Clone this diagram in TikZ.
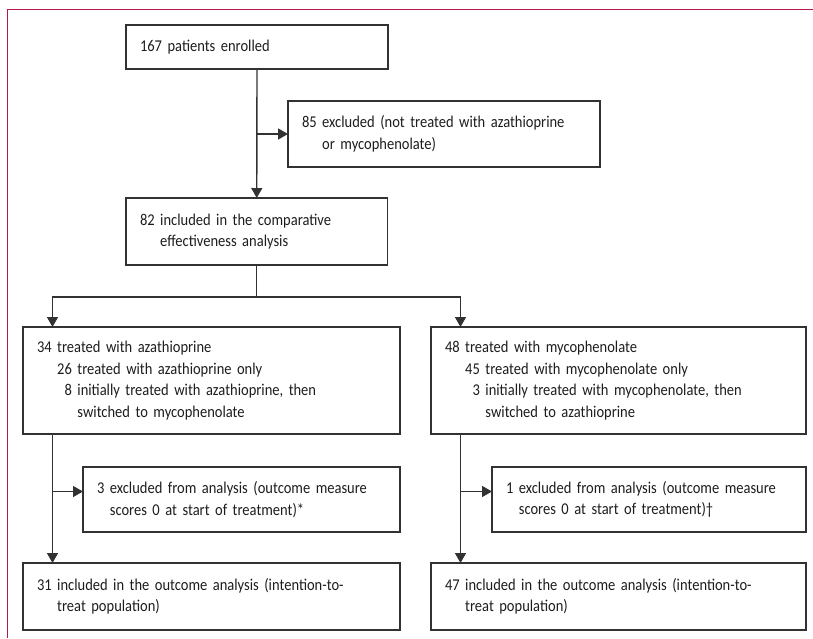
\documentclass[tikz,border=0pt]{standalone}
\usepackage{fontspec}
\setmainfont{Carlito}[FakeStretch=0.88]
\usepackage{tikz}
\usetikzlibrary{positioning,calc,arrows.meta}
\definecolor{framered}{RGB}{178,24,72}
\definecolor{boxgrey}{RGB}{50,50,50}
\definecolor{inkgrey}{RGB}{30,28,28}
\newcommand{\flowfont}{\fontsize{16.5}{21.5}\selectfont}

\begin{document}
\begin{tikzpicture}[x=1pt, y=-1pt, >={Triangle[width=11pt,length=10pt]}, line width=1.2pt]

% box style, anchored at its top-left corner
\tikzset{flow/.style={draw=boxgrey, anchor=north west, align=left, outer sep=0pt,
                      inner xsep=14pt, inner ysep=0pt, text=inkgrey, font=\flowfont},
         link/.style={draw=boxgrey, line width=1.4pt}}

\useasboundingbox (0,0) rectangle (813,638);

% page frame
\draw[framered, line width=1.3pt] (813,9.7) -- (7.3,9.7) -- (7.3,638);

% -----------------------------------------
% Enrolment
% -----------------------------------------
\node[flow, text width=234pt, minimum height=44pt] (enrolled) at (126,25)
  {167 patients enrolled};
\node[flow, text width=284pt, minimum height=66pt] (notTreated) at (288,101)
  {85 excluded (not treated with azathioprine\\\hphantom{85 }or mycophenolate)};
\node[flow, text width=233.5pt, minimum height=67pt] (included) at (126,198)
  {82 included in the comparative\\\hphantom{82 }effectiveness analysis};

\draw[link,->] (enrolled.south) -- (included.north);
\draw[link,->] (notTreated.west -| enrolled.south) -- (notTreated.west);

% -----------------------------------------
% Treatment groups
% -----------------------------------------
\node[flow, text width=349pt, minimum height=107pt] (aza) at (23,327)
  {34 treated with azathioprine\\
   \hphantom{34 }26 treated with azathioprine only\\
   \hphantom{34 2}8 initially treated with azathioprine, then\\
   \hphantom{34 28 }switched to mycophenolate};
\node[flow, text width=347pt, minimum height=107pt] (myco) at (431,327)
  {48 treated with mycophenolate\\
   \hphantom{48 }45 treated with mycophenolate only\\
   \hphantom{48 4}3 initially treated with mycophenolate, then\\
   \hphantom{48 43 }switched to azathioprine};

\coordinate (split) at ($(included.south)+(0,32)$);
\coordinate (azaTrunk) at ($(aza.north west)+(29.5,0)$);
\coordinate (mycoTrunk) at ($(myco.north west)+(29.5,0)$);
\draw[link] (included.south) -- (split);
\draw[link,->] (split) -| (azaTrunk);
\draw[link,->] (split) -| (mycoTrunk);

% -----------------------------------------
% Exclusions and outcome analysis
% -----------------------------------------
\node[flow, text width=289pt, minimum height=65pt] (azaOut) at (83,467)
  {3 excluded from analysis (outcome measure\\\hphantom{3 }scores 0 at start of treatment)*};
\node[flow, text width=286pt, minimum height=65pt] (mycoOut) at (492,467)
  {1 excluded from analysis (outcome measure\\\hphantom{1 }scores 0 at start of treatment)\textdagger};

\node[flow, text width=349pt, minimum height=67pt] (azaITT) at (23,563)
  {31 included in the outcome analysis (intention-to-\\\hphantom{31 }treat population)};
\node[flow, text width=347pt, minimum height=67pt] (mycoITT) at (431,563)
  {47 included in the outcome analysis (intention-to-\\\hphantom{47 }treat population)};

\draw[link,->] (azaTrunk |- aza.south) -- (azaTrunk |- azaITT.north);
\draw[link,->] ([yshift=8pt]azaOut.west -| azaTrunk) -- ([yshift=8pt]azaOut.west);
\draw[link,->] (mycoTrunk |- myco.south) -- (mycoTrunk |- mycoITT.north);
\draw[link,->] ([yshift=8pt]mycoOut.west -| mycoTrunk) -- ([yshift=8pt]mycoOut.west);
\end{tikzpicture}
\end{document}
